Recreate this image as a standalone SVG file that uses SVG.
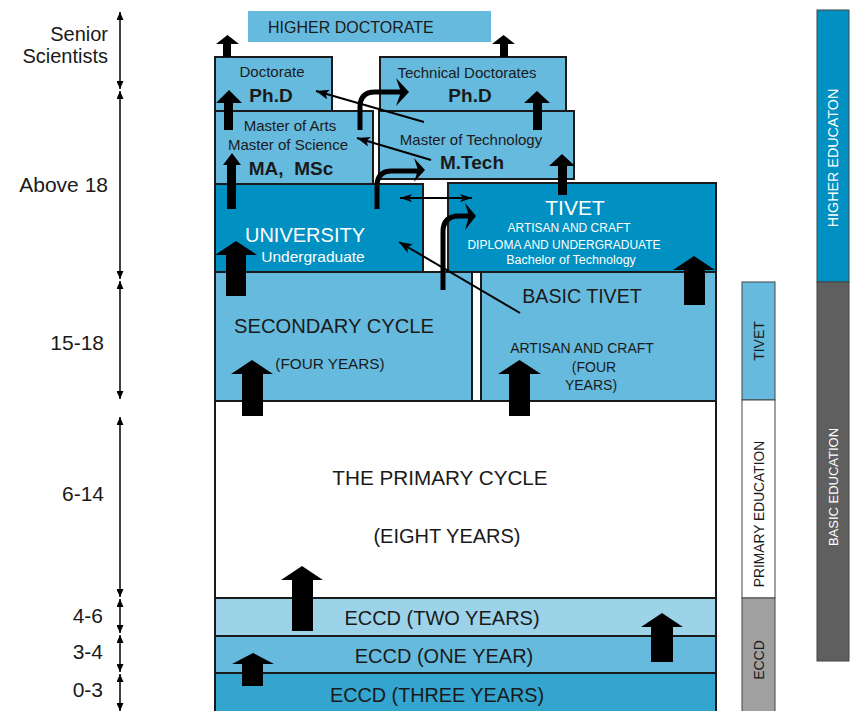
<svg xmlns="http://www.w3.org/2000/svg" width="850" height="711" viewBox="0 0 850 711">
<defs>
<style>
.t{font-family:"Liberation Sans",Arial,sans-serif;fill:#1a1a1a}
.w{fill:#ffffff}
.b{font-weight:bold}
.m{text-anchor:middle}
.e{text-anchor:end}
.lb{fill:#66bade;stroke:#1a1a1a;stroke-width:2}
.db{fill:#0090c2;stroke:#1a1a1a;stroke-width:2}
.blk{fill:#000000}
.age{stroke:#000;stroke-width:1.5;fill:none;marker-start:url(#ah);marker-end:url(#ah)}
.cn{stroke:#000;stroke-width:2;fill:none;marker-end:url(#ah2)}
.cv{stroke:#000;stroke-width:5;fill:none}
.bar{stroke:#444;stroke-width:1}
</style>
<marker id="ah" viewBox="0 0 8 7" refX="8" refY="3.5" markerWidth="8" markerHeight="7" markerUnits="userSpaceOnUse" orient="auto-start-reverse"><path d="M0,0 L8,3.5 L0,7 z" fill="#000"/></marker>
<marker id="ah2" viewBox="0 0 13 10" refX="13" refY="5" markerWidth="13" markerHeight="10" markerUnits="userSpaceOnUse" orient="auto"><path d="M0,0 L13,5 L0,10 L3,5 z" fill="#000"/></marker>
<marker id="ah3" viewBox="0 0 12 8" refX="12" refY="4" markerWidth="12" markerHeight="8" markerUnits="userSpaceOnUse" orient="auto-start-reverse"><path d="M0,0 L12,4 L0,8 L3,4 z" fill="#000"/></marker>
</defs>

<!-- age scale -->
<g id="ages">
<line class="age" x1="120" y1="12" x2="120" y2="89"/>
<line class="age" x1="120" y1="91" x2="120" y2="279"/>
<line class="age" x1="120" y1="281" x2="120" y2="399"/>
<line class="age" x1="120" y1="417" x2="120" y2="597"/>
<line class="age" x1="120" y1="599" x2="120" y2="633"/>
<line class="age" x1="120" y1="635" x2="120" y2="672"/>
<line class="age" x1="120" y1="674" x2="120" y2="711"/>
<text class="t e" x="108" y="41" font-size="20">Senior</text>
<text class="t e" x="108" y="63" font-size="20">Scientists</text>
<text class="t e" x="108" y="192" font-size="21">Above 18</text>
<text class="t e" x="104" y="350" font-size="21">15-18</text>
<text class="t e" x="104" y="501" font-size="21">6-14</text>
<text class="t e" x="103" y="623" font-size="21">4-6</text>
<text class="t e" x="103" y="659" font-size="21">3-4</text>
<text class="t e" x="103" y="697" font-size="21">0-3</text>
</g>

<g id="higher-doctorate">
<rect x="248" y="11" width="243" height="31" fill="#66bade"/>
<text class="t" x="268" y="33" font-size="16">HIGHER DOCTORATE</text>
</g>

<g id="doctorate">
<rect class="lb" x="215" y="57" width="117" height="55"/>
<text class="t m" x="272" y="77" font-size="15">Doctorate</text>
<text class="t m b" x="271" y="102" font-size="19">Ph.D</text>
</g>

<g id="technical-doctorates">
<rect class="lb" x="380" y="57" width="186" height="55"/>
<text class="t m" x="467" y="78" font-size="15">Technical Doctorates</text>
<text class="t m b" x="470" y="102" font-size="19">Ph.D</text>
</g>

<g id="masters">
<rect class="lb" x="215" y="111" width="158" height="73"/>
<text class="t m" x="290" y="131" font-size="15">Master of Arts</text>
<text class="t m" x="288" y="150" font-size="15">Master of Science</text>
<text class="t m b" x="291" y="175" font-size="19">MA,&#160; MSc</text>
</g>

<g id="master-technology">
<rect class="lb" x="379" y="111" width="195" height="68"/>
<text class="t m" x="471" y="145" font-size="15">Master of Technology</text>
<text class="t m b" x="472" y="169" font-size="19">M.Tech</text>
</g>

<g id="university">
<rect class="db" x="215" y="184" width="208" height="88"/>
<text class="t m w" x="305" y="242" font-size="20">UNIVERSITY</text>
<text class="t m w" x="313" y="262" font-size="15.5">Undergraduate</text>
</g>

<g id="tivet">
<rect class="db" x="448" y="183" width="268" height="89"/>
<text class="t m w" x="575" y="215" font-size="21">TIVET</text>
<text class="t m w" x="569" y="232" font-size="12">ARTISAN AND CRAFT</text>
<text class="t m w" x="564" y="249" font-size="12">DIPLOMA AND UNDERGRADUATE</text>
<text class="t m w" x="571" y="264" font-size="12.5">Bachelor of Technology</text>
</g>

<g id="secondary">
<rect class="lb" x="215" y="272" width="257" height="129"/>
<text class="t m" x="334" y="333" font-size="20.2">SECONDARY CYCLE</text>
<text class="t m" x="330" y="369" font-size="15.3">(FOUR YEARS)</text>
</g>

<g id="basic-tivet">
<rect class="lb" x="481" y="272" width="235" height="129"/>
<text class="t m" x="582" y="303" font-size="19.6">BASIC TIVET</text>
<text class="t m" x="582" y="353" font-size="14">ARTISAN AND CRAFT</text>
<text class="t m" x="594" y="372" font-size="14">(FOUR</text>
<text class="t m" x="591" y="390" font-size="14">YEARS)</text>
</g>

<g id="primary">
<rect x="215" y="401" width="501" height="197" fill="#ffffff" stroke="#1a1a1a" stroke-width="2"/>
<text class="t m" x="440" y="485" font-size="20.7">THE PRIMARY CYCLE</text>
<text class="t m" x="447" y="543" font-size="20">(EIGHT YEARS)</text>
</g>

<g id="eccd-two">
<rect x="215" y="598" width="501" height="38" fill="#9dd3e8" stroke="#1a1a1a" stroke-width="2"/>
<text class="t m" x="442" y="625" font-size="20">ECCD (TWO YEARS)</text>
</g>
<g id="eccd-one">
<rect x="215" y="636" width="501" height="37" fill="#66bade" stroke="#1a1a1a" stroke-width="2"/>
<text class="t m" x="444" y="663" font-size="20">ECCD (ONE YEAR)</text>
</g>
<g id="eccd-three">
<rect x="215" y="673" width="501" height="40" fill="#33a5cf" stroke="#1a1a1a" stroke-width="2"/>
<text class="t m" x="437" y="702" font-size="19.8">ECCD (THREE YEARS)</text>
</g>

<!-- side bars -->
<g id="bar-tivet">
<rect class="bar" x="742" y="282" width="33" height="118" fill="#66bade"/>
<text class="t m" transform="translate(764,341) rotate(-90)" font-size="14">TIVET</text>
</g>
<g id="bar-primary">
<rect class="bar" x="742" y="400" width="33" height="198" fill="#ffffff"/>
<text class="t m" transform="translate(764,514) rotate(-90)" font-size="13.8">PRIMARY EDUCATION</text>
</g>
<g id="bar-eccd">
<rect class="bar" x="742" y="598" width="33" height="115" fill="#a0a0a0"/>
<text class="t m" transform="translate(764,660) rotate(-90)" font-size="14">ECCD</text>
</g>
<g id="bar-higher">
<rect class="bar" x="817" y="10" width="32" height="272" fill="#0090c2"/>
<text class="t m w" transform="translate(838,158) rotate(-90)" font-size="14.3">HIGHER EDUCATON</text>
</g>
<g id="bar-basic">
<rect class="bar" x="817" y="282" width="32" height="379" fill="#5f5f5f"/>
<text class="t m w" transform="translate(838,487) rotate(-90)" font-size="13">BASIC EDUCATION</text>
</g>

<!-- connectors -->
<g id="connectors">
<polygon class="blk" points="223,57 223,44 216,44 227.5,35 239,44 231,44 231,57"/>
<polygon class="blk" points="500,57 500,44 492,44 503.5,35 515,44 508,44 508,57"/>
<polygon class="blk" points="224,130 224,103 216,103 229,90 242,103 233,103 233,130"/>
<polygon class="blk" points="227,209 227,165 223,165 232,153 241,165 236,165 236,209"/>
<polygon class="blk" points="226,296 226,255 215,255 236,241 257,255 246,255 246,296"/>
<polygon class="blk" points="242,416 242,374 231,374 252,360 273,374 263,374 263,416"/>
<polygon class="blk" points="509,416 509,374 498,374 519.5,360 541,374 530,374 530,416"/>
<polygon class="blk" points="684,305 684,270 673,270 694,256 715,270 705,270 705,305"/>
<polygon class="blk" points="292,631 292,580 281,580 302,566 323,580 313,580 313,631"/>
<polygon class="blk" points="651,662 651,627 641,627 662,613 683,627 673,627 673,662"/>
<polygon class="blk" points="242,686 242,664 232,664 253,653 274,664 263,664 263,686"/>
<polygon class="blk" points="533,130 533,103 524,103 537,91 550,103 542,103 542,130"/>
<polygon class="blk" points="558,195 558,166 549,166 562,154 575,166 567,166 567,195"/>

<path class="cv" d="M360,130 V107 Q360,92 375,92 H401"/>
<polygon class="blk" points="396,78 409,92 396,106 401,92"/>
<path class="cv" d="M377,209 V186 Q377,171 392,171 H418"/>
<polygon class="blk" points="414,158 425,170 414,182 418,170"/>
<path class="cv" d="M443,290 V232 Q443,216 459,216 H469"/>
<polygon class="blk" points="465,203 476,216 465,230 469,216"/>

<line x1="400" y1="198" x2="472" y2="198" stroke="#000" stroke-width="2" marker-start="url(#ah3)" marker-end="url(#ah3)"/>
<line class="cn" x1="424" y1="122" x2="316" y2="91"/>
<line class="cn" x1="431" y1="160" x2="357" y2="138"/>
<line class="cn" x1="520" y1="313" x2="399" y2="242"/>
</g>
</svg>
